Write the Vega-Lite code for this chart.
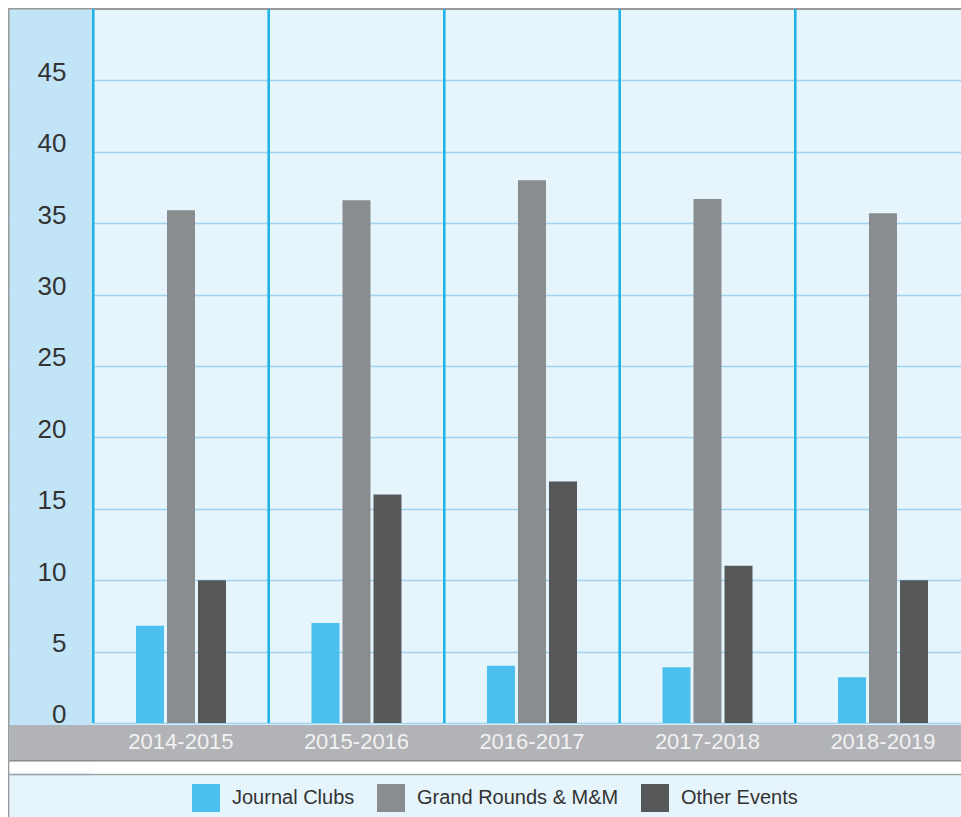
{
  "$schema": "https://vega.github.io/schema/vega-lite/v6.json",
  "width": 962,
  "height": 821,
  "padding": {"left": 9, "top": 8, "right": 0, "bottom": 0},
  "background": "#ffffff",
  "config": {
    "view": {"fill": "#e6f4fc", "stroke": "#9a9a9a", "strokeWidth": 2},
    "font": "Liberation Sans"
  },
  "data": {
    "values": [
      {"year": "2014-2015", "series": "Journal Clubs", "value": 6.8},
      {"year": "2014-2015", "series": "Grand Rounds & M&M", "value": 35.9},
      {"year": "2014-2015", "series": "Other Events", "value": 10},
      {"year": "2015-2016", "series": "Journal Clubs", "value": 7.0},
      {"year": "2015-2016", "series": "Grand Rounds & M&M", "value": 36.6},
      {"year": "2015-2016", "series": "Other Events", "value": 16},
      {"year": "2016-2017", "series": "Journal Clubs", "value": 4},
      {"year": "2016-2017", "series": "Grand Rounds & M&M", "value": 38},
      {"year": "2016-2017", "series": "Other Events", "value": 16.9},
      {"year": "2017-2018", "series": "Journal Clubs", "value": 3.9},
      {"year": "2017-2018", "series": "Grand Rounds & M&M", "value": 36.7},
      {"year": "2017-2018", "series": "Other Events", "value": 11},
      {"year": "2018-2019", "series": "Journal Clubs", "value": 3.2},
      {"year": "2018-2019", "series": "Grand Rounds & M&M", "value": 35.7},
      {"year": "2018-2019", "series": "Other Events", "value": 10}
    ]
  },
  "layer": [
    {
      "mark": {"type": "rule", "color": "#1fb4e9", "strokeWidth": 2},
      "encoding": {
        "x": {
          "field": "year",
          "type": "nominal",
          "bandPosition": -0.475,
          "scale": {"type": "band", "paddingInner": 0.4872, "paddingOuter": 0.4843, "align": 0.747},
          "axis": {
            "orient": "bottom",
            "offset": -88.6,
            "title": null,
            "grid": false,
            "ticks": false,
            "tickSize": 0,
            "domain": false,
            "labelFont": "Liberation Sans",
            "labelFontSize": 22,
            "labelColor": "#f2f2f2",
            "labelBaseline": "middle",
            "labelPadding": 0,
            "labelAngle": 0,
            "zindex": 2
          }
        },
        "y": {
          "datum": 50,
          "type": "quantitative",
          "scale": {"domain": [-7.5, 50], "nice": false, "zero": false},
          "axis": {
            "orient": "left",
            "values": [-5.61, -3.57, -3.088, -2.597, -1.303, 0, 5, 10, 15, 20, 25, 30, 35, 40, 45],
            "title": null,
            "grid": true,
            "gridColor": {
              "condition": [
                {"test": "datum.value < -5", "value": "#e6f4fc"},
                {"test": "datum.value < -3.3", "value": "#a0a0a0"},
                {"test": "datum.value < -2.8", "value": "#ffffff"},
                {"test": "datum.value < -2", "value": "#8e8e8e"},
                {"test": "datum.value < 0", "value": "#b1b3b6"}
              ],
              "value": "transparent"
            },
            "gridWidth": {
              "condition": [
                {"test": "datum.value < -5", "value": 56},
                {"test": "datum.value < -3.3", "value": 1.5},
                {"test": "datum.value < -2.8", "value": 12},
                {"test": "datum.value < -2", "value": 2},
                {"test": "datum.value < 0", "value": 35}
              ],
              "value": 0
            },
            "domain": false,
            "ticks": false,
            "tickSize": 0,
            "labels": true,
            "labelExpr": "datum.value >= 0 ? datum.label : ''",
            "labelFont": "Liberation Sans",
            "labelFontSize": 26,
            "labelColor": "#333333",
            "labelAlign": "right",
            "labelBaseline": "alphabetic",
            "labelPadding": -57,
            "zindex": 1
          }
        },
        "y2": {"datum": 0}
      }
    },
    {
      "mark": {"type": "bar"},
      "encoding": {
        "x": {
          "field": "year",
          "type": "nominal",
          "scale": {"type": "band", "paddingInner": 0.4872, "paddingOuter": 0.4843, "align": 0.747}
        },
        "xOffset": {
          "field": "series",
          "type": "nominal",
          "sort": ["Journal Clubs", "Grand Rounds & M&M", "Other Events"],
          "scale": {"paddingInner": 0.097, "paddingOuter": 0}
        },
        "y": {
          "field": "value",
          "type": "quantitative",
          "scale": {"domain": [-7.5, 50], "nice": false, "zero": false},
          "axis": {
            "orient": "left",
            "values": [0, 5, 10, 15, 20, 25, 30, 35, 40, 45],
            "title": null,
            "grid": true,
            "gridColor": "#9fd4f1",
            "gridWidth": 1.5,
            "ticks": false,
            "tickSize": 0,
            "labels": false,
            "domain": true,
            "domainColor": "#c2e4f7",
            "domainWidth": 84,
            "offset": -42,
            "zindex": 0
          }
        },
        "color": {
          "field": "series",
          "type": "nominal",
          "sort": ["Journal Clubs", "Grand Rounds & M&M", "Other Events"],
          "scale": {
            "domain": ["Journal Clubs", "Grand Rounds & M&M", "Other Events"],
            "range": ["#4bbfed", "#8a8d90", "#555759"]
          },
          "legend": {
            "orient": "none",
            "legendX": 183,
            "legendY": 775,
            "direction": "horizontal",
            "title": null,
            "symbolType": "square",
            "symbolSize": 784,
            "symbolStrokeWidth": 0,
            "symbolOpacity": 1,
            "labelFont": "Liberation Sans",
            "labelFontSize": 20,
            "labelColor": "#333333",
            "labelOffset": 12,
            "labelLimit": 400,
            "columnPadding": 22,
            "padding": 0,
            "zindex": 3
          }
        }
      }
    }
  ],
  "resolve": {"axis": {"y": "independent"}}
}
